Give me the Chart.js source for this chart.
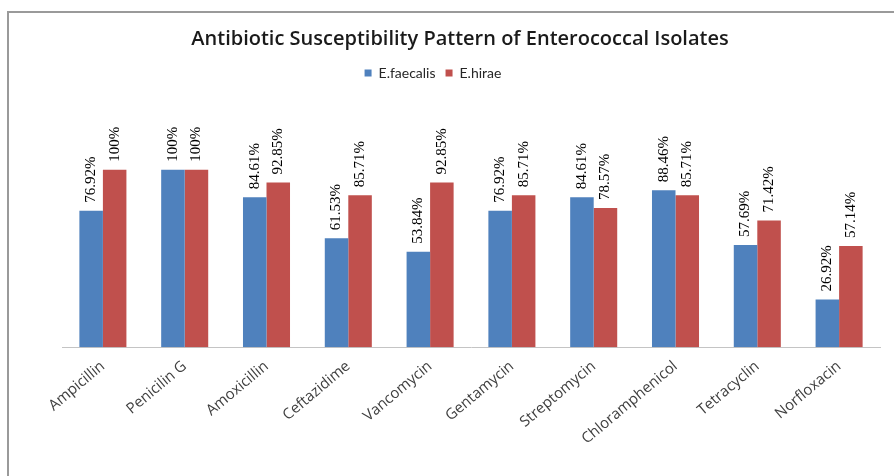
<!DOCTYPE html>
<html>
<head>
<meta charset="utf-8">
<script src="https://cdn.jsdelivr.net/npm/chart.js@4"></script>
<style>
  html, body { margin: 0; padding: 0; background: #ffffff; }
  #wrap { width: 894px; height: 476px; position: relative; }
</style>
</head>
<body>
<div id="wrap"><canvas id="chart" width="894" height="476"></canvas></div>
<script>
// Antibiotics tested
const antibiotics = ['Ampicillin', 'Penicilin G', 'Amoxicillin', 'Ceftazidime', 'Vancomycin',
  'Gentamycin', 'Streptomycin', 'Chloramphenicol', 'Tetracyclin', 'Norfloxacin'];

// Percentage of susceptible isolates
const faecalis = [76.92, 100, 84.61, 61.53, 53.84, 76.92, 84.61, 88.46, 57.69, 26.92];
const hirae = [100, 100, 92.85, 85.71, 92.85, 85.71, 78.57, 85.71, 71.42, 57.14];

const seriesNames = ['E.faecalis', 'E.hirae'];

// Outer frame of the chart box
const framePlugin = {
  id: 'frame',
  beforeDraw(chart) {
    const ctx = chart.ctx;
    ctx.save();
    ctx.fillStyle = '#ffffff';
    ctx.fillRect(0, 0, chart.width, chart.height);
    ctx.strokeStyle = '#9a9a9a';
    ctx.lineWidth = 2;
    ctx.strokeRect(8, 12, chart.width + 10, chart.height + 10);
    ctx.restore();
  }
};

// Nudge the title and legend horizontally after layout
const headerOffset = {
  id: 'headerOffset',
  afterLayout(chart) {
    const shift = (box, dx) => { if (box) { box.left += dx; box.right += dx; } };
    shift(chart.titleBlock, -11);
    shift(chart.legend, -38);
  }
};

// Vertical value labels above each bar
const valueLabels = {
  id: 'valueLabels',
  afterDatasetsDraw(chart) {
    const ctx = chart.ctx;
    ctx.save();
    ctx.fillStyle = '#000000';
    ctx.font = '15px "Liberation Serif", "DejaVu Serif", serif';
    ctx.textAlign = 'left';
    ctx.textBaseline = 'middle';
    chart.data.datasets.forEach((ds, i) => {
      const meta = chart.getDatasetMeta(i);
      meta.data.forEach((bar, j) => {
        ctx.save();
        ctx.translate(bar.x, bar.y - 8);
        ctx.rotate(-Math.PI / 2);
        ctx.fillText(ds.data[j] + '%', 0, 0);
        ctx.restore();
      });
    });
    ctx.restore();
  }
};

new Chart(document.getElementById('chart'), {
  type: 'bar',
  data: {
    labels: antibiotics,
    datasets: [
      { label: seriesNames[0], data: faecalis, backgroundColor: '#4f81bd' },
      { label: seriesNames[1], data: hirae, backgroundColor: '#c0504d' }
    ]
  },
  options: {
    responsive: false,
    animation: false,
    devicePixelRatio: 1,
    layout: { padding: { top: 19, left: 62, right: 14, bottom: 18 } },
    datasets: { bar: { categoryPercentage: 0.575, barPercentage: 1.0 } },
    plugins: {
      title: {
        display: true,
        text: 'Antibiotic Susceptibility Pattern of Enterococcal Isolates',
        color: '#1a1a1a',
        font: { family: '"Open Sans"', size: 20, weight: '600' },
        padding: { top: 8, bottom: 5 }
      },
      legend: {
        display: true,
        labels: {
          color: '#262626',
          font: { family: 'Lato', size: 14 },
          boxWidth: 7,
          boxHeight: 7,
          padding: 10
        }
      },
      tooltip: { enabled: false }
    },
    scales: {
      x: {
        grid: { display: false, drawTicks: false },
        border: { display: true, color: '#c4c4c4', width: 1 },
        ticks: {
          color: '#404040',
          font: { family: '"Open Sans"', size: 15 },
          maxRotation: 40,
          minRotation: 40,
          autoSkip: false,
          padding: 10
        }
      },
      y: {
        display: false,
        min: 0,
        max: 145
      }
    }
  },
  plugins: [framePlugin, headerOffset, valueLabels]
});
</script>
</body>
</html>
